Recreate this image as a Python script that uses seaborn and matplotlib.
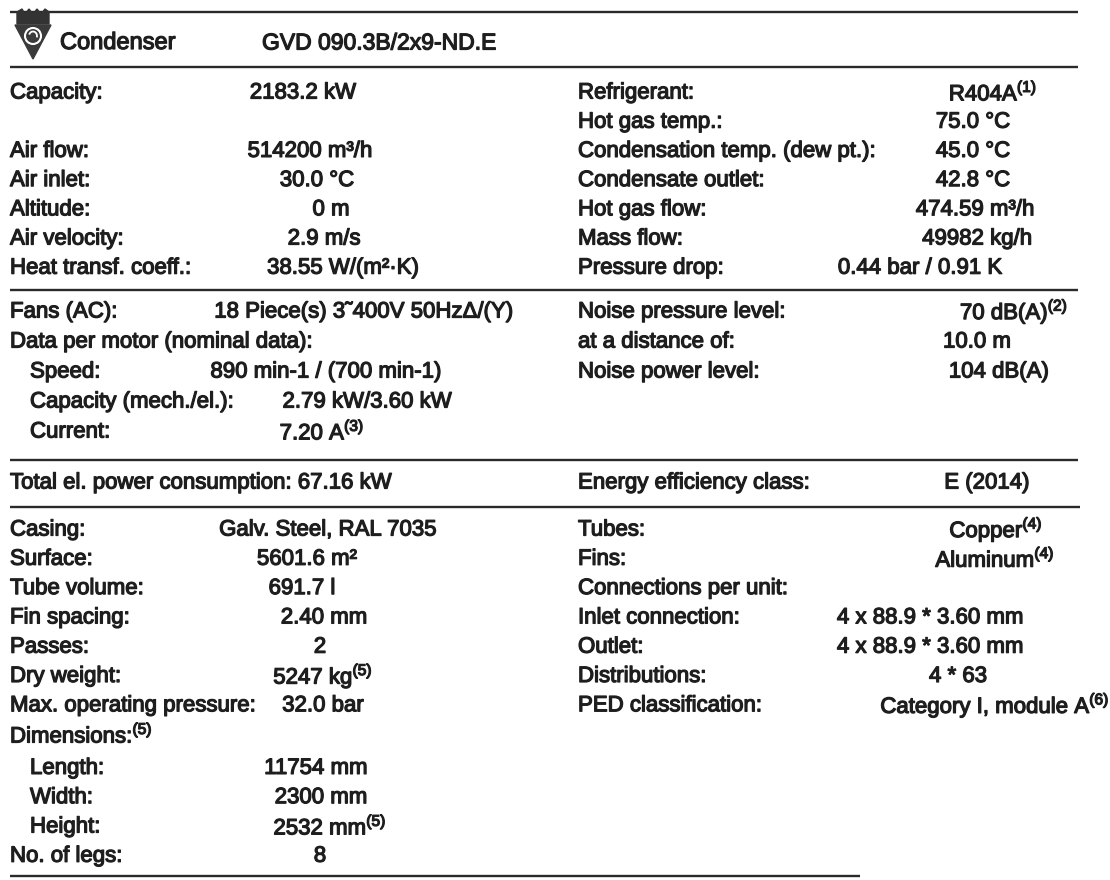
import matplotlib
matplotlib.use("Agg")
import matplotlib.pyplot as plt
import matplotlib.patheffects as pe
from matplotlib.patches import Polygon, Circle, Arc
import seaborn as sns

# ---- data ----
header_type = "Condenser"
header_model = "GVD 090.3B/2x9-ND.E"

# section 1: performance
perf_labels = ["Capacity:", "", "Air flow:", "Air inlet:", "Altitude:",
               "Air velocity:", "Heat transf. coeff.:"]
perf_values = ["2183.2 kW", "", "514200 m³/h", "30.0 °C", "0 m",
               "2.9 m/s", "38.55 W/(m²·K)"]
refr_labels = ["Refrigerant:", "Hot gas temp.:", "Condensation temp. (dew pt.):",
               "Condensate outlet:", "Hot gas flow:", "Mass flow:", "Pressure drop:"]
refr_values = ["R404A$^{\\mathregular{(1)}}$", "75.0 °C", "45.0 °C", "42.8 °C",
               "474.59 m³/h", "49982 kg/h", "0.44 bar / 0.91 K"]

# section 2: fans and noise
fan_labels = ["Fans (AC):", "Data per motor (nominal data):", "Speed:",
              "Capacity (mech./el.):", "Current:"]
fan_values = ["18 Piece(s) 3˜400V 50HzΔ/(Y)", "", "890 min-1 / (700 min-1)",
              "2.79 kW/3.60 kW", "7.20 A$^{\\mathregular{(3)}}$"]
noise_labels = ["Noise pressure level:", "at a distance of:", "Noise power level:"]
noise_values = ["70 dB(A)$^{\\mathregular{(2)}}$", "10.0 m", "104 dB(A)"]

# section 3: power
power_text = "Total el. power consumption: 67.16 kW"
energy_label = "Energy efficiency class:"
energy_value = "E (2014)"

# section 4: construction
build_labels = ["Casing:", "Surface:", "Tube volume:", "Fin spacing:", "Passes:",
                "Dry weight:", "Max. operating pressure:",
                "Dimensions:$^{\\mathregular{(5)}}$", "Length:", "Width:", "Height:",
                "No. of legs:"]
build_values = ["Galv. Steel, RAL 7035", "5601.6 m²", "691.7 l", "2.40 mm", "2",
                "5247 kg$^{\\mathregular{(5)}}$", "32.0 bar", "", "11754 mm",
                "2300 mm", "2532 mm$^{\\mathregular{(5)}}$", "8"]
conn_labels = ["Tubes:", "Fins:", "Connections per unit:", "Inlet connection:",
               "Outlet:", "Distributions:", "PED classification:"]
conn_values = ["Copper$^{\\mathregular{(4)}}$", "Aluminum$^{\\mathregular{(4)}}$", "",
               "4 x 88.9 * 3.60 mm", "4 x 88.9 * 3.60 mm", "4 * 63",
               "Category I, module A$^{\\mathregular{(6)}}$"]

# ---- layout (pixels) ----
perf_vx = [303, 0, 310, 317, 331, 324, 343]
refr_vx = [993, 973, 973, 973, 975, 977, 920]
fan_vx = [364, 0, 326, 367, 322]
fan_indent = [0, 0, 1, 1, 1]
noise_vx = [1014, 977, 999]
build_vx = [328, 307, 302, 324, 320, 323, 323, 0, 316, 321, 330, 320]
build_indent = [0, 0, 0, 0, 0, 0, 0, 0, 1, 1, 1, 0]
conn_vx = [996, 995, 0, 930, 930, 958, 995]

LEFT_X = 10
INDENT_X = 30
RIGHT_X = 578
FS = 16

sns.set_theme(style="white")
plt.rcParams["font.family"] = ["Liberation Sans", "DejaVu Sans"]
plt.rcParams["mathtext.fontset"] = "custom"
plt.rcParams["mathtext.rm"] = "Liberation Sans"

fig = plt.figure(figsize=(11.1, 8.8), dpi=100)
ax = fig.add_axes([0, 0, 1, 1])
ax.set_xlim(0, 1110)
ax.set_ylim(880, 0)
ax.axis("off")

ink = "#1e1e1e"
fx = [pe.withStroke(linewidth=0.9, foreground=ink)]


def put(x, y, s, ha="left", size=FS):
    if s:
        ax.text(x, y, s, ha=ha, va="center", fontsize=size, color=ink,
                path_effects=fx)


def block(labels, values, vx, y0, lx, pitch, indent=None, gaps=None):
    y = y0
    for i, (lab, val) in enumerate(zip(labels, values)):
        if gaps and i in gaps:
            y += gaps[i]
        x = INDENT_X if indent and indent[i] else lx
        put(x, y, lab)
        put(vx[i], y, val, ha="center")
        y += pitch


# separator lines
for yl, x1 in [(12, 1078), (67, 1078), (290, 1078), (460, 1078), (507, 1080), (876, 860)]:
    ax.hlines(yl, 10, x1, color="#2a2a2a", lw=1.7)

# logo: little crown on top of a triangle with a swirl
crown = [[17, 24], [17, 12], [22, 9], [25, 14], [29, 9], [33, 14], [37, 9],
         [41, 14], [45, 9], [49, 12], [49, 24]]
ax.add_patch(Polygon(crown, closed=True, color="#333333", zorder=3))
ax.add_patch(Polygon([[15, 25], [51, 25], [33, 59]], closed=True, color="#3a3a3a", zorder=3))
ax.add_patch(Circle((33, 36), 8, fill=False, ec="white", lw=1.5, zorder=4))
ax.add_patch(Arc((33, 36), 8, 9, theta1=200, theta2=20, ec="white", lw=1.3, zorder=4))

put(60, 43, header_type, size=17)
put(262, 43, header_model, size=16.5)

block(perf_labels, perf_values, perf_vx, 93, LEFT_X, 29.2)
block(refr_labels, refr_values, refr_vx, 93, RIGHT_X, 29.2)
block(fan_labels, fan_values, fan_vx, 312, LEFT_X, 30, indent=fan_indent)
block(noise_labels, noise_values, noise_vx, 312, RIGHT_X, 30)
put(LEFT_X, 483, power_text)
put(RIGHT_X, 483, energy_label)
put(987, 483, energy_value, ha="center")
block(build_labels, build_values, build_vx, 530, LEFT_X, 29.3,
      indent=build_indent, gaps={8: 4})
block(conn_labels, conn_values, conn_vx, 530, RIGHT_X, 29.3)

fig.savefig("out.png", dpi=100, facecolor="white")
